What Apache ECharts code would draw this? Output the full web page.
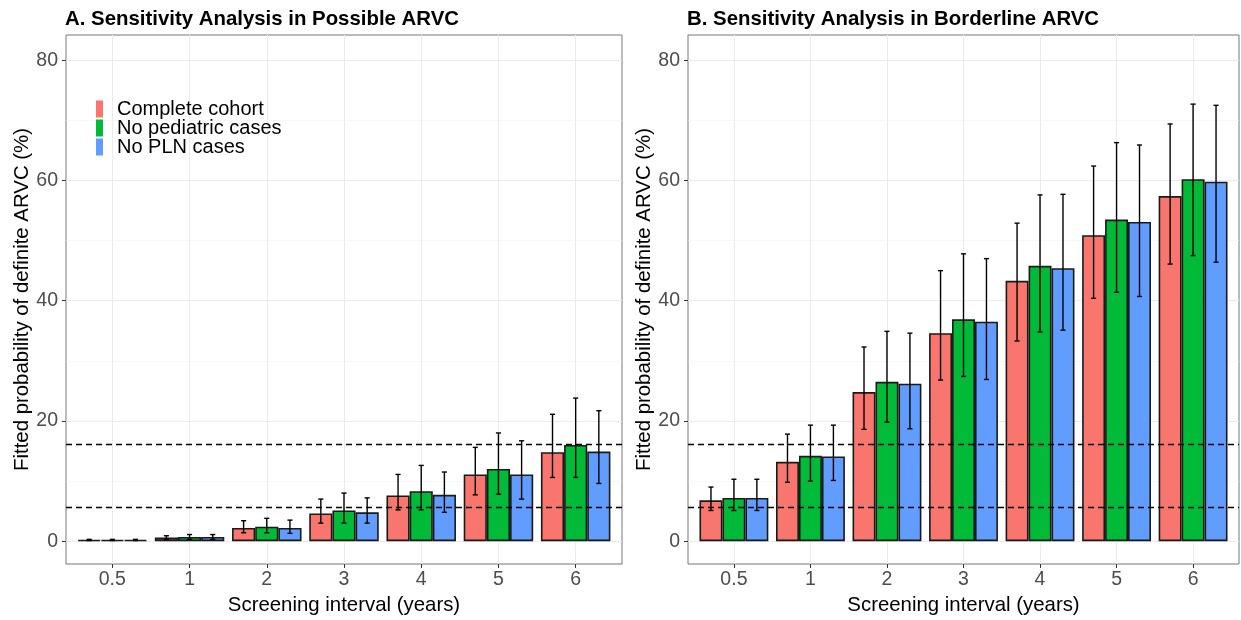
<!DOCTYPE html>
<html><head><meta charset="utf-8">
<script src="https://cdn.jsdelivr.net/npm/echarts@6/dist/echarts.min.js"></script>
<style>html,body{margin:0;padding:0;background:#fff}#c{width:1241px;height:620px}</style>
</head><body><div id="c"></div>
<script>
const categories = ['0.5', '1', '2', '3', '4', '5', '6'];
const seriesNames = ['Complete cohort', 'No pediatric cases', 'No PLN cases'];
const yTicks = [0, 20, 40, 60, 80];
const yMinor = [10, 30, 50, 70];
const thresholds = [16.2, 5.7];

// Panel A: Possible ARVC
const A_complete    = [0.2, 0.6, 2.2, 4.6, 7.6, 11.1, 14.8];
const A_complete_lo = [0.1, 0.3, 1.4, 3.0, 5.2, 7.7, 10.6];
const A_complete_hi = [0.3, 0.9, 3.4, 7.0, 11.1, 15.6, 21.1];
const A_noped       = [0.2, 0.7, 2.4, 5.1, 8.3, 12.0, 16.0];
const A_noped_lo    = [0.1, 0.3, 1.4, 3.0, 5.2, 7.8, 10.6];
const A_noped_hi    = [0.3, 1.1, 3.8, 8.0, 12.6, 18.0, 23.8];
const A_nopln       = [0.2, 0.7, 2.2, 4.8, 7.7, 11.1, 14.9];
const A_nopln_lo    = [0.1, 0.3, 1.3, 3.0, 4.8, 7.0, 9.6];
const A_nopln_hi    = [0.3, 1.1, 3.5, 7.2, 11.5, 16.7, 21.7];

// Panel B: Borderline ARVC
const B_complete    = [6.8, 13.2, 24.8, 34.6, 43.3, 50.9, 57.4];
const B_complete_lo = [5.1, 9.8, 18.6, 26.8, 33.3, 40.4, 46.1];
const B_complete_hi = [9.0, 17.8, 32.3, 45.0, 52.9, 62.4, 69.4];
const B_noped       = [7.2, 14.2, 26.5, 36.9, 45.8, 53.5, 60.2];
const B_noped_lo    = [5.1, 10.0, 19.8, 27.4, 34.8, 41.4, 47.5];
const B_noped_hi    = [10.3, 19.3, 34.9, 47.8, 57.6, 66.3, 72.7];
const B_nopln       = [7.2, 14.1, 26.2, 36.5, 45.4, 53.1, 59.8];
const B_nopln_lo    = [5.1, 10.1, 18.7, 26.9, 35.1, 40.7, 46.4];
const B_nopln_hi    = [10.3, 19.3, 34.6, 47.0, 57.7, 65.9, 72.5];

const colors = ['#F8766D', '#00BA38', '#619CFF'];
const FONT = '"Liberation Sans", Arial, sans-serif';
const catIdx = categories.map((c, i) => i);

function errRender(k) {
  return function (params, api) {
    const x = api.value(0), lo = api.value(1), hi = api.value(2);
    const band = api.size([1, 0])[0];
    const off = (k - 1) * band * 0.3;
    const a = api.coord([x, lo]), b = api.coord([x, hi]);
    const cx = a[0] + off, w = band * 0.033;
    const style = { stroke: '#000', lineWidth: 1.4 };
    return { type: 'group', children: [
      { type: 'line', shape: { x1: cx, y1: a[1], x2: cx, y2: b[1] }, style },
      { type: 'line', shape: { x1: cx - w, y1: a[1], x2: cx + w, y2: a[1] }, style },
      { type: 'line', shape: { x1: cx - w, y1: b[1], x2: cx + w, y2: b[1] }, style }
    ]};
  };
}

function xAxisFor(gi) {
  return {
    type: 'value', gridIndex: gi, min: -0.6, max: 6.6,
    name: 'Screening interval (years)', nameLocation: 'middle', nameGap: 31,
    nameTextStyle: { fontSize: 20.4, color: '#000', fontFamily: FONT },
    axisLine: { show: false, onZero: false },
    axisTick: { show: true, length: 4, lineStyle: { color: '#333' }, customValues: catIdx },
    axisLabel: { customValues: catIdx, formatter: v => categories[Math.round(v)], fontSize: 19.5, color: '#4d4d4d', margin: 6, fontFamily: FONT },
    splitLine: { show: true, lineStyle: { color: '#ebebeb', width: 1 } }
  };
}
function yAxisFor(gi) {
  return {
    type: 'value', gridIndex: gi, min: -3.8, max: 84.2,
    name: 'Fitted probability of definite ARVC (%)', nameLocation: 'middle', nameGap: 34,
    nameTextStyle: { fontSize: 20.4, color: '#000', fontFamily: FONT },
    axisLine: { show: false, onZero: false },
    axisTick: { show: true, length: 4, lineStyle: { color: '#333' }, customValues: yTicks },
    axisLabel: { customValues: yTicks, fontSize: 19.5, color: '#4d4d4d', margin: 8, fontFamily: FONT },
    splitLine: { show: true, lineStyle: { color: '#ebebeb', width: 1 } }
  };
}

function panelSeries(gi, vals, los, his) {
  const out = [];
  vals.forEach((v, k) => {
    const s = {
      type: 'bar', name: seriesNames[k], xAxisIndex: gi, yAxisIndex: gi,
      data: catIdx.map(i => [i, v[i]]),
      barGap: '0%', barCategoryGap: '10%',
      itemStyle: { color: colors[k], borderColor: '#1a1a1a', borderWidth: 1.6 },
      emphasis: { disabled: true }
    };
    if (k === 0) {
      s.markLine = { z: 1, silent: true, symbol: 'none', label: { show: false },
        lineStyle: { color: '#f2f2f2', width: 0.6, type: 'solid' },
        data: yMinor.map(y => ({ yAxis: y })) };
    }
    if (k === 2) {
      s.markLine = { z: 6, silent: true, symbol: 'none', label: { show: false },
        lineStyle: { color: '#000', width: 1.3, type: [6, 4] },
        data: thresholds.map(y => ({ yAxis: y })) };
    }
    out.push(s);
  });
  los.forEach((lo, k) => {
    out.push({
      type: 'custom', xAxisIndex: gi, yAxisIndex: gi, z: 4, silent: true,
      encode: { x: 0, y: [1, 2] },
      data: catIdx.map(i => [i, lo[i], his[k][i]]),
      renderItem: errRender(k)
    });
  });
  return out;
}

const chart = echarts.init(document.getElementById('c'), null, { renderer: 'canvas' });
chart.setOption({
  backgroundColor: '#fff',
  animation: false,
  textStyle: { fontFamily: FONT },
  title: [
    { text: 'A. Sensitivity Analysis in Possible ARVC', left: 60, top: 4,
      textStyle: { fontSize: 20.4, fontWeight: 'bold', color: '#000', fontFamily: FONT } },
    { text: 'B. Sensitivity Analysis in Borderline ARVC', left: 682, top: 4,
      textStyle: { fontSize: 20.4, fontWeight: 'bold', color: '#000', fontFamily: FONT } }
  ],
  legend: {
    data: seriesNames, left: 91, top: 94, orient: 'vertical',
    itemWidth: 7, itemHeight: 17, itemGap: -1, icon: 'rect',
    itemStyle: { borderWidth: 0 },
    textStyle: { fontSize: 20, lineHeight: 17, color: '#000', fontFamily: FONT, padding: [0, 0, 0, 9] },
    selectedMode: false
  },
  grid: [
    { left: 66, right: 619, top: 35, bottom: 54, show: true, borderColor: '#777', borderWidth: 1, backgroundColor: '#fff' },
    { left: 688, right: 2, top: 35, bottom: 54, show: true, borderColor: '#777', borderWidth: 1, backgroundColor: '#fff' }
  ],
  xAxis: [xAxisFor(0), xAxisFor(1)],
  yAxis: [yAxisFor(0), yAxisFor(1)],
  series: [].concat(
    panelSeries(0, [A_complete, A_noped, A_nopln], [A_complete_lo, A_noped_lo, A_nopln_lo], [A_complete_hi, A_noped_hi, A_nopln_hi]),
    panelSeries(1, [B_complete, B_noped, B_nopln], [B_complete_lo, B_noped_lo, B_nopln_lo], [B_complete_hi, B_noped_hi, B_nopln_hi])
  )
});
</script>
</body></html>
